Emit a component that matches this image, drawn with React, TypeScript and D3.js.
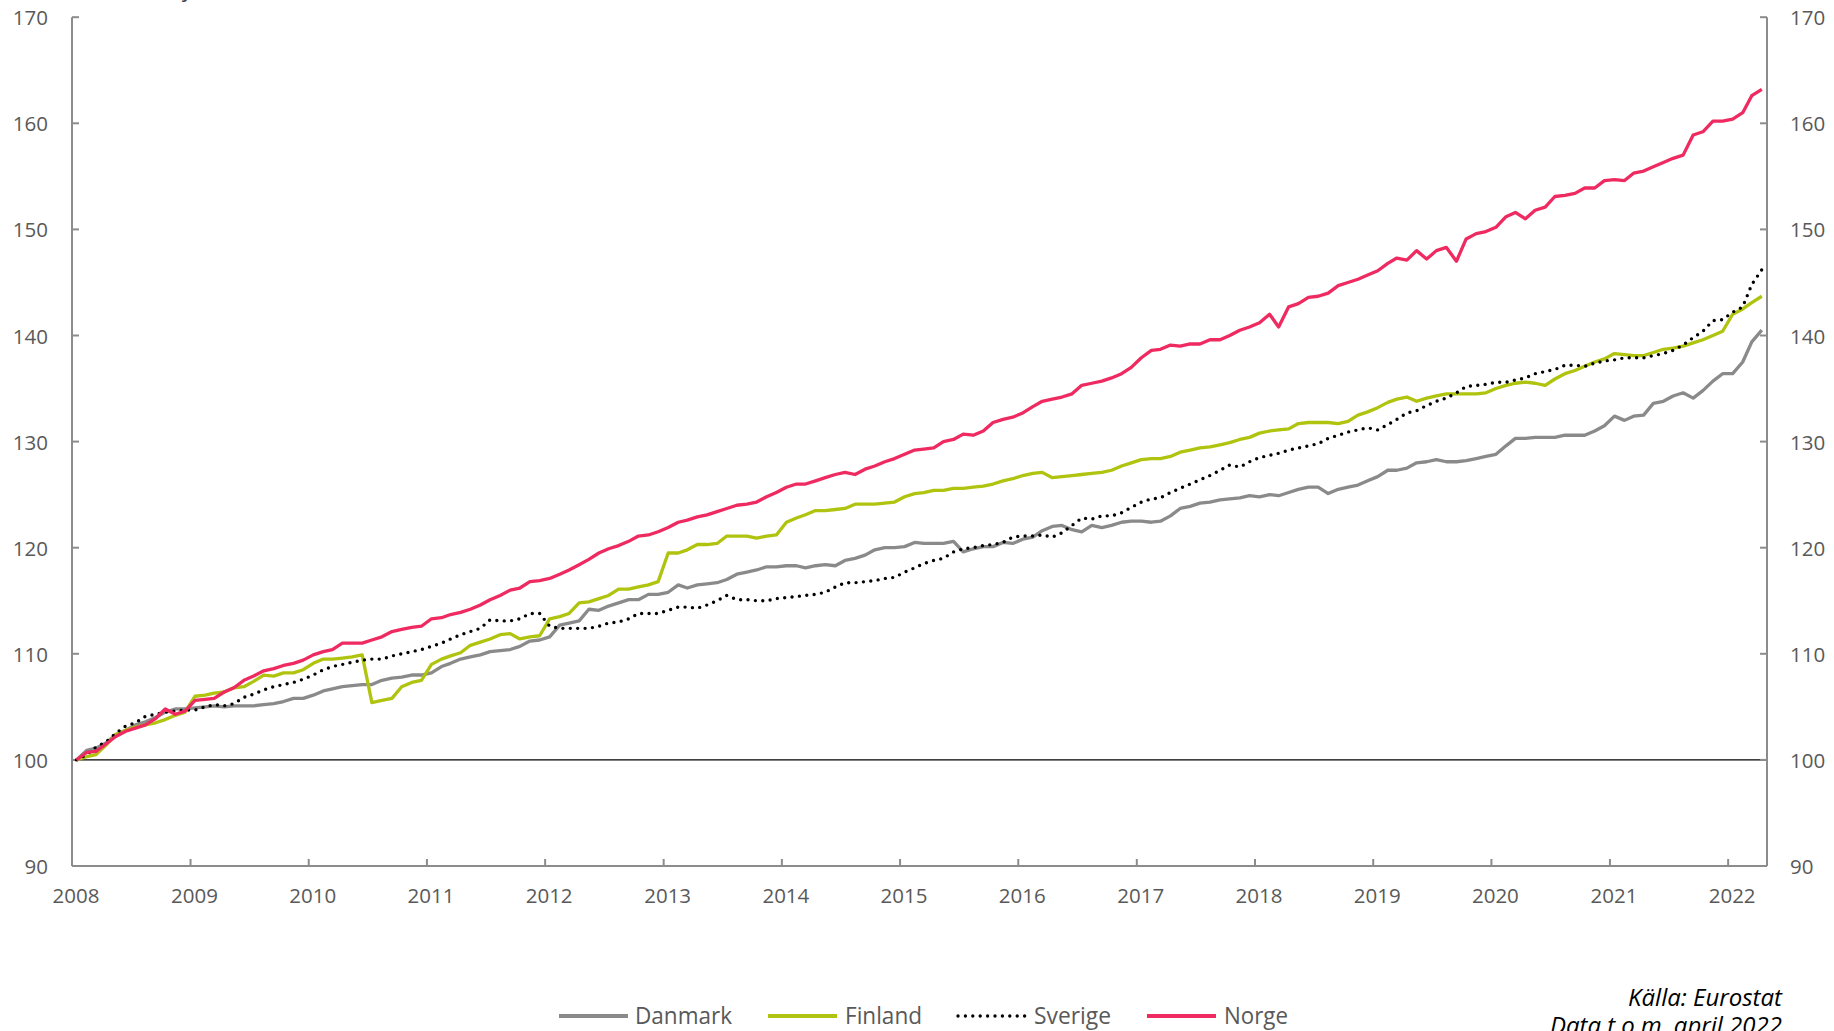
import React from 'react';
import * as d3 from 'd3';

// Index, januari 2008 = 100, monthly values Jan 2008 - Apr 2022
const firstMonth = new Date(2008, 0, 15);
const yearTicks = d3.range(2008, 2023);
const valueTicks = d3.range(90, 171, 10);

const danmark = [
  100.0, 100.9, 101.1, 101.6, 102.4, 102.8, 103.3, 103.6, 104.0, 104.5,
  104.8, 104.8, 104.9, 105.0, 105.1, 105.0, 105.1, 105.1, 105.1, 105.2,
  105.3, 105.5, 105.8, 105.8, 106.1, 106.5, 106.7, 106.9, 107.0, 107.1,
  107.1, 107.5, 107.7, 107.8, 108.0, 108.0, 108.2, 108.8, 109.1, 109.5,
  109.7, 109.9, 110.2, 110.3, 110.4, 110.7, 111.2, 111.3, 111.6, 112.7,
  112.9, 113.1, 114.2, 114.1, 114.5, 114.8, 115.1, 115.1, 115.6, 115.6,
  115.8, 116.5, 116.2, 116.5, 116.6, 116.7, 117.0, 117.5, 117.7, 117.9,
  118.2, 118.2, 118.3, 118.3, 118.1, 118.3, 118.4, 118.3, 118.8, 119.0,
  119.3, 119.8, 120.0, 120.0, 120.1, 120.5, 120.4, 120.4, 120.4, 120.6,
  119.6, 119.9, 120.1, 120.1, 120.5, 120.4, 120.8, 121.0, 121.6, 122.0,
  122.1, 121.7, 121.5, 122.1, 121.9, 122.1, 122.4, 122.5, 122.5, 122.4,
  122.5, 123.0, 123.7, 123.9, 124.2, 124.3, 124.5, 124.6, 124.7, 124.9,
  124.8, 125.0, 124.9, 125.2, 125.5, 125.7, 125.7, 125.1, 125.5, 125.7,
  125.9, 126.3, 126.7, 127.3, 127.3, 127.5, 128.0, 128.1, 128.3, 128.1,
  128.1, 128.2, 128.4, 128.6, 128.8, 129.6, 130.3, 130.3, 130.4, 130.4,
  130.4, 130.6, 130.6, 130.6, 131.0, 131.5, 132.4, 132.0, 132.4, 132.5,
  133.6, 133.8, 134.3, 134.6, 134.1, 134.8, 135.7, 136.4, 136.4, 137.5,
  139.4, 140.5,
];

const finland = [
  100.0, 100.3, 100.5, 101.4, 102.4, 102.8, 103.1, 103.3, 103.5, 103.8,
  104.2, 104.5, 106.0, 106.1, 106.3, 106.4, 106.8, 106.9, 107.4, 108.0,
  107.9, 108.2, 108.2, 108.5, 109.1, 109.5, 109.5, 109.6, 109.7, 109.9,
  105.4, 105.6, 105.8, 106.9, 107.3, 107.5, 109.0, 109.5, 109.8, 110.1,
  110.8, 111.1, 111.4, 111.8, 111.9, 111.4, 111.6, 111.7, 113.3, 113.5,
  113.8, 114.8, 114.9, 115.2, 115.5, 116.1, 116.1, 116.3, 116.5, 116.8,
  119.5, 119.5, 119.8, 120.3, 120.3, 120.4, 121.1, 121.1, 121.1, 120.9,
  121.1, 121.2, 122.4, 122.8, 123.1, 123.5, 123.5, 123.6, 123.7, 124.1,
  124.1, 124.1, 124.2, 124.3, 124.8, 125.1, 125.2, 125.4, 125.4, 125.6,
  125.6, 125.7, 125.8, 126.0, 126.3, 126.5, 126.8, 127.0, 127.1, 126.6,
  126.7, 126.8, 126.9, 127.0, 127.1, 127.3, 127.7, 128.0, 128.3, 128.4,
  128.4, 128.6, 129.0, 129.2, 129.4, 129.5, 129.7, 129.9, 130.2, 130.4,
  130.8, 131.0, 131.1, 131.2, 131.7, 131.8, 131.8, 131.8, 131.7, 131.9,
  132.5, 132.8, 133.2, 133.7, 134.0, 134.2, 133.8, 134.1, 134.3, 134.5,
  134.5, 134.5, 134.5, 134.6, 135.0, 135.3, 135.5, 135.6, 135.5, 135.3,
  135.9, 136.4, 136.7, 137.1, 137.5, 137.8, 138.3, 138.2, 138.1, 138.1,
  138.4, 138.7, 138.8, 139.0, 139.3, 139.6, 140.0, 140.4, 142.0, 142.5,
  143.1, 143.7,
];

const sverige = [
  100.0, 100.5, 101.2, 101.7, 102.5, 103.2, 103.5, 104.1, 104.3, 104.5,
  104.6, 104.7, 104.7, 105.0, 105.2, 105.1, 105.3, 105.9, 106.2, 106.6,
  106.9, 107.1, 107.3, 107.6, 108.0, 108.5, 108.8, 109.0, 109.2, 109.4,
  109.5, 109.5, 109.8, 110.0, 110.2, 110.4, 110.7, 111.0, 111.4, 111.8,
  112.1, 112.4, 113.2, 113.1, 113.1, 113.3, 113.8, 113.8, 112.6, 112.4,
  112.4, 112.4, 112.4, 112.6, 112.9, 113.0, 113.3, 113.8, 113.8, 113.8,
  114.1, 114.4, 114.4, 114.3, 114.6, 115.0, 115.5, 115.1, 115.1, 115.0,
  115.0, 115.2, 115.3, 115.4, 115.5, 115.6, 115.8, 116.3, 116.7, 116.7,
  116.8, 116.9, 117.1, 117.2, 117.7, 118.1, 118.5, 118.8, 119.0, 119.6,
  119.9, 120.0, 120.2, 120.3, 120.5, 121.0, 121.1, 121.1, 121.2, 121.0,
  121.4, 122.1, 122.8, 122.7, 123.0, 123.0, 123.3, 123.8, 124.3, 124.6,
  124.7, 125.2, 125.6, 126.0, 126.4, 126.8, 127.3, 127.8, 127.6, 128.1,
  128.5, 128.7, 128.9, 129.2, 129.4, 129.6, 129.8, 130.3, 130.6, 130.9,
  131.1, 131.3, 131.1, 131.6, 132.1, 132.7, 132.9, 133.4, 133.8, 134.1,
  134.6, 135.2, 135.3, 135.4, 135.6, 135.6, 135.8, 136.0, 136.4, 136.6,
  136.8, 137.2, 137.2, 137.1, 137.4, 137.6, 137.7, 137.9, 137.9, 137.9,
  138.1, 138.3, 138.6, 139.1, 139.8, 140.4, 141.4, 141.5, 142.2, 142.7,
  144.8, 146.2,
];

const norge = [
  100.0, 100.7, 100.8, 101.5, 102.2, 102.7, 103.0, 103.3, 103.9, 104.8,
  104.3, 104.6, 105.6, 105.7, 105.8, 106.4, 106.8, 107.5, 107.9, 108.4,
  108.6, 108.9, 109.1, 109.4, 109.9, 110.2, 110.4, 111.0, 111.0, 111.0,
  111.3, 111.6, 112.1, 112.3, 112.5, 112.6, 113.3, 113.4, 113.7, 113.9,
  114.2, 114.6, 115.1, 115.5, 116.0, 116.2, 116.8, 116.9, 117.1, 117.5,
  117.9, 118.4, 118.9, 119.5, 119.9, 120.2, 120.6, 121.1, 121.2, 121.5,
  121.9, 122.4, 122.6, 122.9, 123.1, 123.4, 123.7, 124.0, 124.1, 124.3,
  124.8, 125.2, 125.7, 126.0, 126.0, 126.3, 126.6, 126.9, 127.1, 126.9,
  127.4, 127.7, 128.1, 128.4, 128.8, 129.2, 129.3, 129.4, 130.0, 130.2,
  130.7, 130.6, 131.0, 131.8, 132.1, 132.3, 132.7, 133.3, 133.8, 134.0,
  134.2, 134.5, 135.3, 135.5, 135.7, 136.0, 136.4, 137.0, 137.9, 138.6,
  138.7, 139.1, 139.0, 139.2, 139.2, 139.6, 139.6, 140.0, 140.5, 140.8,
  141.2, 142.0, 140.8, 142.7, 143.0, 143.6, 143.7, 144.0, 144.7, 145.0,
  145.3, 145.7, 146.1, 146.8, 147.3, 147.1, 148.0, 147.2, 148.0, 148.3,
  147.0, 149.1, 149.6, 149.8, 150.2, 151.2, 151.6, 151.0, 151.8, 152.1,
  153.1, 153.2, 153.4, 153.9, 153.9, 154.6, 154.7, 154.6, 155.3, 155.5,
  155.9, 156.3, 156.7, 157.0, 158.9, 159.2, 160.2, 160.2, 160.4, 161.0,
  162.6, 163.2,
];

const seriesNames = ['Danmark', 'Finland', 'Sverige', 'Norge'];
const seriesValues = [danmark, finland, sverige, norge];
const seriesColors = ['#8a8a8a', '#afc30f', '#000000', '#ee2a60'];

const W = 1834;
const H = 1031;
const plot = { left: 72, right: 1767, top: 17.2, bottom: 866 };
const axisColor = '#8c8c8c';
const labelColor = '#595959';
const font = "'Open Sans', sans-serif";

const x = d3
  .scaleTime()
  .domain([new Date(2008, 0, 1), new Date(2022, 4, 1)])
  .range([plot.left, plot.right]);
const y = d3.scaleLinear().domain([90, 170]).range([plot.bottom, plot.top]);

const dates = danmark.map((_, i) => d3.timeMonth.offset(firstMonth, i));

const line = d3
  .line<number>()
  .x((_, i) => x(dates[i]))
  .y((d) => y(d));

// legend layout: [line start, line end, text start, text width]
const legendLayout = [
  [559, 628, 635, 97],
  [768, 837, 845, 77],
  [958, 1026, 1034, 77],
  [1147, 1216, 1224, 64],
];
const legendY = 1016;

const lineProps = (i: number) =>
  i === 2
    ? { stroke: '#000', strokeWidth: 3.4, strokeDasharray: '0 7.4', strokeLinecap: 'round' as const }
    : { stroke: seriesColors[i], strokeWidth: 3.3, strokeLinejoin: 'round' as const };

export default function App() {
  return (
    <div>
      <style>{'body{margin:0;background:#fff;}'}</style>
      <svg width={W} height={H} style={{ display: 'block' }} fontFamily={font}>
        <rect width={W} height={H} fill="#fff" />

        {/* heading, mostly above the visible area */}
        <text x={115} y={-3} fontSize={22} fill="#404040">
          Index, jan 2008 = 100
        </text>

        {/* reference line at 100 */}
        <line x1={plot.left} x2={plot.right} y1={y(100)} y2={y(100)} stroke="#000" strokeWidth={1.4} />

        {/* axes */}
        <g stroke={axisColor} strokeWidth={2} fill="none">
          <line x1={plot.left} x2={plot.left} y1={plot.top} y2={plot.bottom} />
          <line x1={plot.right} x2={plot.right} y1={plot.top} y2={plot.bottom} />
          <line x1={plot.left} x2={plot.right} y1={plot.bottom} y2={plot.bottom} />
          {valueTicks.map((v) => (
            <g key={v}>
              <line x1={plot.left} x2={plot.left + 7} y1={y(v)} y2={y(v)} />
              <line x1={plot.right - 7} x2={plot.right} y1={y(v)} y2={y(v)} />
            </g>
          ))}
          {yearTicks.map((yr) => {
            const tx = x(new Date(yr, 0, 1));
            return <line key={yr} x1={tx} x2={tx} y1={plot.bottom} y2={plot.bottom - 7} />;
          })}
        </g>

        <g fontSize={20.5} fill={labelColor}>
          {valueTicks.map((v) => (
            <g key={v}>
              <text x={48} y={y(v)} textAnchor="end" dominantBaseline="central">
                {v}
              </text>
              <text x={1790} y={y(v)} textAnchor="start" dominantBaseline="central">
                {v}
              </text>
            </g>
          ))}
          {yearTicks.map((yr) => (
            <text key={yr} x={x(new Date(yr, 0, 1)) + 4} y={903} textAnchor="middle">
              {yr}
            </text>
          ))}
        </g>

        {/* series */}
        {seriesValues.map((vals, i) => (
          <path key={seriesNames[i]} d={line(vals) ?? ''} fill="none" {...lineProps(i)} />
        ))}

        {/* legend */}
        <g>
          {seriesNames.map((name, i) => {
            const [l0, l1, tx, tw] = legendLayout[i];
            return (
              <g key={name}>
                <line
                  x1={l0}
                  x2={l1}
                  y1={legendY}
                  y2={legendY}
                  fill="none"
                  {...lineProps(i)}
                  strokeWidth={i === 2 ? 3.4 : 4}
                />
                <text
                  x={tx}
                  y={legendY + 8}
                  fontSize={23}
                  fill={labelColor}
                  textLength={tw}
                  lengthAdjust="spacingAndGlyphs"
                >
                  {name}
                </text>
              </g>
            );
          })}
        </g>

        {/* source */}
        <g fontSize={24} fontStyle="italic" fill="#000" textAnchor="end">
          <text x={1782} y={1006}>Källa: Eurostat</text>
          <text x={1782} y={1034}>Data t.o.m. april 2022</text>
        </g>
      </svg>
    </div>
  );
}
